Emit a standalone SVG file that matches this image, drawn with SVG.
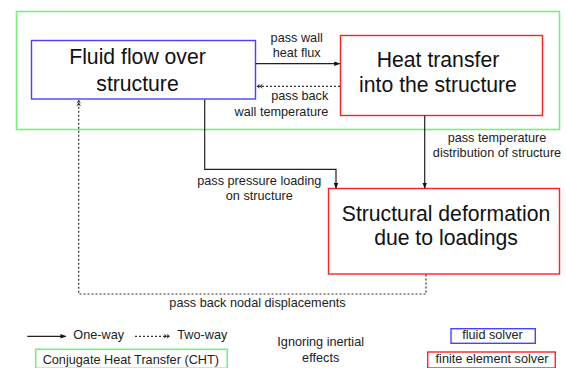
<svg xmlns="http://www.w3.org/2000/svg" width="566" height="368" viewBox="0 0 566 368">
<defs>
<style>
.big{font-family:"Liberation Sans",Arial,sans-serif;font-size:21.2px;fill:#111;text-anchor:middle}
.sm{font-family:"Liberation Sans",Arial,sans-serif;font-size:12.7px;fill:#222;text-anchor:middle}
.ln{fill:none;stroke:#222;stroke-width:1.2}
.dt{fill:none;stroke:#333;stroke-width:1.2;stroke-dasharray:2 2}
.blue{fill:#fff;stroke:#4444ff;stroke-width:1.4}
.red{fill:#fff;stroke:#ff2222;stroke-width:1.4}
.green{fill:none;stroke:#77f077;stroke-width:1.6}
</style>
<marker id="ah" viewBox="0 0 8 8" refX="7" refY="4" markerWidth="6" markerHeight="6" markerUnits="userSpaceOnUse" orient="auto">
<path d="M0,1 L8,4 L0,7 Z" fill="#111"/>
</marker>
<marker id="ad" viewBox="0 0 10 8" refX="9" refY="4" markerWidth="7" markerHeight="6" markerUnits="userSpaceOnUse" orient="auto">
<path d="M0,0.5 L5,4 L0,7.5 L2,4 Z M4,0.5 L9,4 L4,7.5 L6,4 Z" fill="#222"/>
</marker>
</defs>
<rect width="566" height="368" fill="#fff"/>
<g id="cht-group"><rect class="green" x="16.5" y="11.5" width="543" height="118"/></g>
<g id="fluid"><rect class="blue" x="31.5" y="40.5" width="224" height="58.5"/>
<text class="big" x="137.5" y="64">Fluid flow over</text>
<text class="big" x="137.5" y="90.5">structure</text></g>
<g id="heat"><rect class="red" x="340.5" y="35.5" width="202" height="80"/>
<text class="big" x="438" y="66.5">Heat transfer</text>
<text class="big" x="438" y="92">into the structure</text></g>
<g id="struct"><rect class="red" x="328.5" y="188.5" width="231" height="85.5"/>
<text class="big" x="446" y="220.5">Structural deformation</text>
<text class="big" x="446" y="245">due to loadings</text></g>
<g id="connectors">
<path class="ln" d="M255.5,63.7 H339.5" marker-end="url(#ah)"/>
<path class="dt" d="M340,86.3 H256.5" marker-end="url(#ad)"/>
<path class="ln" d="M204.7,99.5 V169.3 H336 V188" marker-end="url(#ah)"/>
<path class="ln" d="M424.7,115.5 V188" marker-end="url(#ah)"/>
<path class="dt" d="M426,274.5 V294 H78.7 V100" marker-end="url(#ad)"/>
<text class="sm" x="296.7" y="41.7">pass wall</text>
<text class="sm" x="296.7" y="57.3">heat flux</text>
<text class="sm" x="328.3" y="100" style="text-anchor:end">pass back</text>
<text class="sm" x="328.3" y="116" style="text-anchor:end">wall temperature</text>
<text class="sm" x="497" y="142.3">pass temperature</text>
<text class="sm" x="497" y="157.3">distribution of structure</text>
<text class="sm" x="259.3" y="185">pass pressure loading</text>
<text class="sm" x="259.3" y="200">on structure</text>
<text class="sm" x="257.5" y="306.7">pass back nodal displacements</text>
</g>
<g id="legend-oneway"><path class="ln" d="M27.3,336.3 H65.7" marker-end="url(#ah)"/>
<text class="sm" x="73.3" y="338.7" style="text-anchor:start">One-way</text></g>
<g id="legend-twoway"><path class="dt" d="M135,336.3 H170" marker-end="url(#ad)"/>
<text class="sm" x="177.3" y="338.7" style="text-anchor:start">Two-way</text></g>
<g id="legend-cht"><rect class="green" x="35.7" y="349.3" width="191.6" height="19"/>
<text class="sm" x="130.8" y="364.3">Conjugate Heat Transfer (CHT)</text></g>
<g id="note"><text class="sm" x="320.7" y="346">Ignoring inertial</text>
<text class="sm" x="320.7" y="362">effects</text></g>
<g id="legend-fluid"><rect class="blue" x="451" y="328.7" width="84.3" height="14.6"/>
<text class="sm" x="492.5" y="339">fluid solver</text></g>
<g id="legend-fe"><rect class="red" x="427.7" y="352" width="127.6" height="16"/>
<text class="sm" x="492" y="363.3">finite element solver</text></g>
</svg>
